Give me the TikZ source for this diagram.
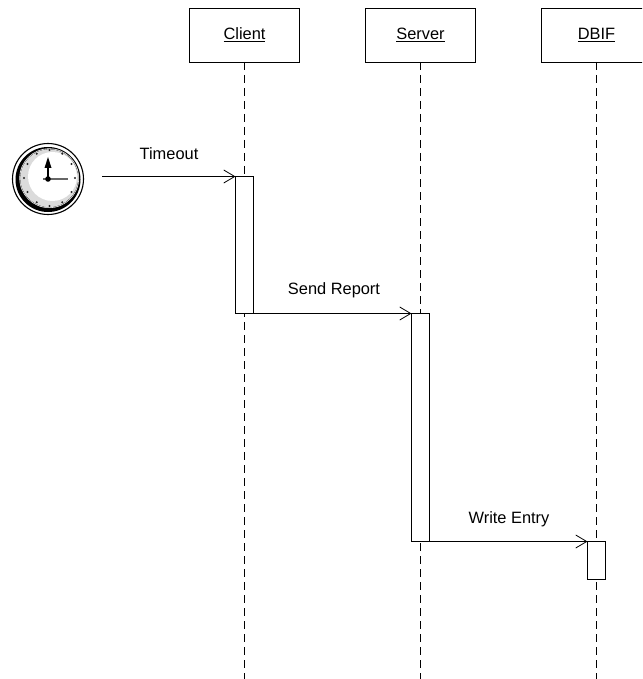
\documentclass[tikz,border=0pt]{standalone}
\usepackage{fontspec}
\setmainfont{Liberation Sans}
\usetikzlibrary{arrows.meta,calc}
\tikzset{
  actor/.style={draw=black,line width=0.8pt,fill=white,minimum width=110pt,minimum height=54pt,inner sep=0pt,outer sep=0pt,font=\fontsize{16.4}{18}\selectfont},
  lifeline/.style={draw=black,line width=0.8pt,dash pattern=on 8pt off 5pt},
  activation/.style={draw=black,line width=0.8pt,fill=white,minimum width=18pt,inner sep=0pt,outer sep=0pt,anchor=north},
  message/.style={draw=black,line width=0.9pt,-{Straight Barb[length=11pt,width=13pt,line width=0.8pt]}},
  msglabel/.style={inner sep=0pt,font=\fontsize{16.4}{18}\selectfont},
}
\begin{document}
\begin{tikzpicture}[x=1pt,y=-1pt]
\useasboundingbox (0,0) rectangle (642,679);
\clip (0,0) rectangle (642,679);
\fill[white] (0,0) rectangle (642,679);
% actors
\node[actor] (client) at (244.5,35) {\underline{Client}};
\node[actor] (server) at (420.5,35) {\underline{Server}};
\node[actor] (dbif) at (596.5,35) {\underline{DBIF}};
% lifeline ends
\coordinate (clientend) at (244.5,679);
\coordinate (serverend) at (420.5,679);
\coordinate (dbifend) at (596.5,679);
\draw[lifeline] (client.south) -- (clientend);
\draw[lifeline] (server.south) -- (serverend);
\draw[lifeline] (dbif.south) -- (dbifend);
% activations
\node[activation,minimum height=137pt] (a1) at (244.5,176.5) {};
\node[activation,minimum height=228pt] (a2) at (420.5,313.5) {};
\node[activation,minimum height=38pt] (a3) at (596.5,541.5) {};
% clock
\begin{scope}[shift={(48,179)}]
  \draw[black,line width=1.1pt,fill=white] (0,0) circle (35.5);
  \fill[black] (0,0.5) circle (32.5);
  \fill[white] (1.2,-0.8) circle (29.8);
  \draw[black!70,line width=0.4pt] (1.2,-0.8) circle (29);
  \fill[black!14] (1.2,-0.8) circle (28.5);
  \fill[white] (4.5,-2.5) circle (24.5);
  \foreach \a in {0,30,...,330} \fill[black!85] ($(1.5,-1)+(\a:25.5 and 28)$) circle (1.1);
  \draw[black,line width=1.4pt] (0,0) -- (0,-14);
  \fill[black] (0,-22) -- (-3.5,-11) -- (3.5,-11) -- cycle;
  \draw[black!60,line width=1.3pt] (-5,0) -- (20,0);
  \fill[black] (0,0) circle (2.8);
\end{scope}
\coordinate (clock) at (102,176.5);
% messages
\draw[message] (clock) -- (a1.north west);
\draw[message] (a1.south west) -- (a2.north west);
\draw[message] (a2.south west) -- (a3.north west);
% labels
\node[msglabel] (l1) at (169,154) {Timeout};
\node[msglabel] (l2) at (334,290) {Send Report};
\node[msglabel] (l3) at (509,519) {Write Entry};
\end{tikzpicture}
\end{document}
